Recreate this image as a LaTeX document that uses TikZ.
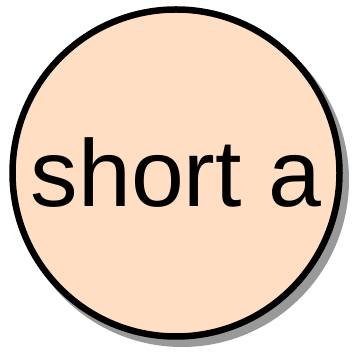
\documentclass[tikz,border=0pt]{standalone}
\usepackage{fontspec}
\setmainfont{Liberation Sans}
\definecolor{peach}{HTML}{FFDEC4}
\definecolor{shadowgray}{HTML}{999999}
\tikzset{
  circ/.style={circle, draw=black, line width=6.5pt, fill=peach, minimum size=327pt, inner sep=0pt},
  shad/.style={circle, fill=shadowgray, minimum size=334pt, inner sep=0pt},
  lbl/.style={font=\fontsize{95pt}{95pt}\selectfont, inner sep=0pt}
}
\begin{document}
\begin{tikzpicture}[x=1pt,y=1pt]
\useasboundingbox (0,0) rectangle (352,352);
\node[shad] (s) at (182,172) {};
\node[circ] (c) at (176,179) {};
\node[lbl, anchor=base] (t) at (176,145) {short a};
\end{tikzpicture}
\end{document}
